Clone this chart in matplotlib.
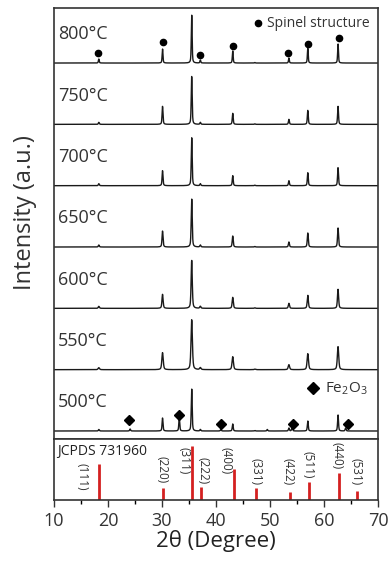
import numpy as np
import matplotlib
matplotlib.use('Agg')
from matplotlib import pyplot as plt

plt.rcParams['font.family'] = ['Open Sans', 'DejaVu Sans']
plt.rcParams['mathtext.fontset'] = 'custom'
plt.rcParams['mathtext.rm'] = 'Open Sans'
plt.rcParams['mathtext.it'] = 'Open Sans'

# sample temperatures, bottom to top
temps = ['500', '550', '600', '650', '700', '750', '800']

# spinel reflections (2theta) seen in the patterns
spinel_pos = [18.3, 30.1, 35.5, 37.1, 43.1, 47.2, 53.5, 57.0, 62.6]
# peak heights (pixels above baseline, ~61 px per panel)
spinel_h = {
    '500': [1.5, 13, 42, 1.5, 7, 0.5, 3, 10, 16],
    '550': [2, 17, 50, 2, 13, 0.5, 5, 16, 23],
    '600': [2, 14, 48, 2, 11, 0.5, 5, 13, 19],
    '650': [2, 16, 48, 2, 11, 0.5, 5, 14, 19],
    '700': [2, 15, 48, 2, 10, 0.5, 5, 13, 18],
    '750': [2, 18, 48, 2, 11, 0.5, 5, 14, 18],
    '800': [4, 14, 48, 3, 12, 0.5, 5, 15, 19],
}
fwhm = {'500': 0.2, '550': 0.3, '600': 0.25, '650': 0.22,
        '700': 0.2, '750': 0.2, '800': 0.18}

# extra hematite peaks in the 500 C sample
fe2o3_pos = [24.1, 33.2, 40.9, 49.5, 54.1, 64.0]
fe2o3_h = [2, 13, 1.5, 1.5, 4, 3]

# markers
dot_x = [18.1, 30.2, 37.0, 43.1, 53.3, 57.0, 62.8]
dot_y = [10, 21, 8, 17, 10, 19, 25]
dia_x = [23.9, 33.1, 40.9, 54.3, 64.4]
dia_y = [11, 16, 7, 7, 7]

# JCPDS 73-1960 reference lines
ref_pos = [18.3, 30.2, 35.6, 37.2, 43.3, 47.4, 53.7, 57.2, 62.8, 66.1]
ref_h = [36, 12, 54, 13, 31, 12, 8, 18, 27, 9]
ref_lab = ['(111)', '(220)', '(311)', '(222)', '(400)', '(331)',
           '(422)', '(511)', '(440)', '(531)']
lab_x = [15.2, 30.0, 34.1, 37.6, 41.8, 47.4, 53.3, 57.0, 62.4, 65.9]
lab_y = [23, 30, 39, 29, 39, 28, 28, 35, 44, 28]

PX = 61.3  # pixels per panel

def pattern(x, pos, h, w):
    y = np.zeros_like(x)
    for p, a in zip(pos, h):
        g = np.exp(-4 * np.log(2) * ((x - p) / w) ** 2)
        l = 1 / (1 + 4 * ((x - p) / w) ** 2)
        y += a / PX * (0.5 * g + 0.5 * l)
    return y

x = np.linspace(10, 70, 4000)

fig = plt.figure(figsize=(3.89, 5.61), dpi=100)
ax = fig.add_axes([54/389, 1-439/561, 324/389, 431/561])
ax2 = fig.add_axes([54/389, 1-500/561, 324/389, 61/561])

for i, t in enumerate(temps):
    y = pattern(x, spinel_pos, spinel_h[t], fwhm[t])
    if t == '500':
        y += pattern(x, fe2o3_pos, fe2o3_h, 0.2)
    ax.plot(x, y + i, color='#1a1a1a', lw=1.0)
    ax.text(10.75, i + 0.47, t + '°C', fontsize=13, va='center', color='#333333')

ax.plot(dot_x, 6 + np.array(dot_y) / PX, 'o', color='black', ms=4.5)
ax.plot(dia_x, np.array(dia_y) / PX, 'D', color='black', ms=5)

ax.plot([47.8], [6.65], 'o', color='black', ms=4.5)
ax.text(49.5, 6.65, 'Spinel structure', fontsize=10, va='center', color='#333333')
ax.plot([58.0], [0.70], 'D', color='black', ms=6)
ax.text(60.2, 0.68, 'Fe$_2$O$_3$', fontsize=11, va='center', color='#333333')

ax.set_xlim(10, 70)
ax.set_ylim(-8/PX, 6 + 55/PX)
ax.set_xticks([])
ax.set_yticks([])

ax2.vlines(ref_pos, 0, ref_h, color='#d42020', lw=2)
for xp, yp, s in zip(lab_x, lab_y, ref_lab):
    ax2.text(xp, yp, s, rotation=-90, fontsize=8.5, ha='center', va='center',
             color='#333333')
ax2.text(10.6, 49, 'JCPDS 731960', fontsize=10, va='center', color='#222222')
ax2.set_xlim(10, 70)
ax2.set_ylim(0, 61)
ax2.set_yticks([])
ax2.set_xticks(range(10, 71, 10))
ax2.set_xticks(range(15, 70, 10), minor=True)
ax2.tick_params(axis='x', which='major', direction='out', length=5, width=1,
                labelsize=13, colors='#333333')
ax2.tick_params(axis='x', which='minor', direction='out', length=3, width=1)
ax2.set_xlabel('2θ (Degree)', fontsize=16, color='#222222', labelpad=0)
fig.text(25/389, 1-213/561, 'Intensity (a.u.)', rotation=90, fontsize=17,
         ha='center', va='center', color='#333333')

for a in (ax, ax2):
    for s in a.spines.values():
        s.set_linewidth(1.2)
        s.set_color('#333333')

plt.savefig('out.png', dpi=100)
